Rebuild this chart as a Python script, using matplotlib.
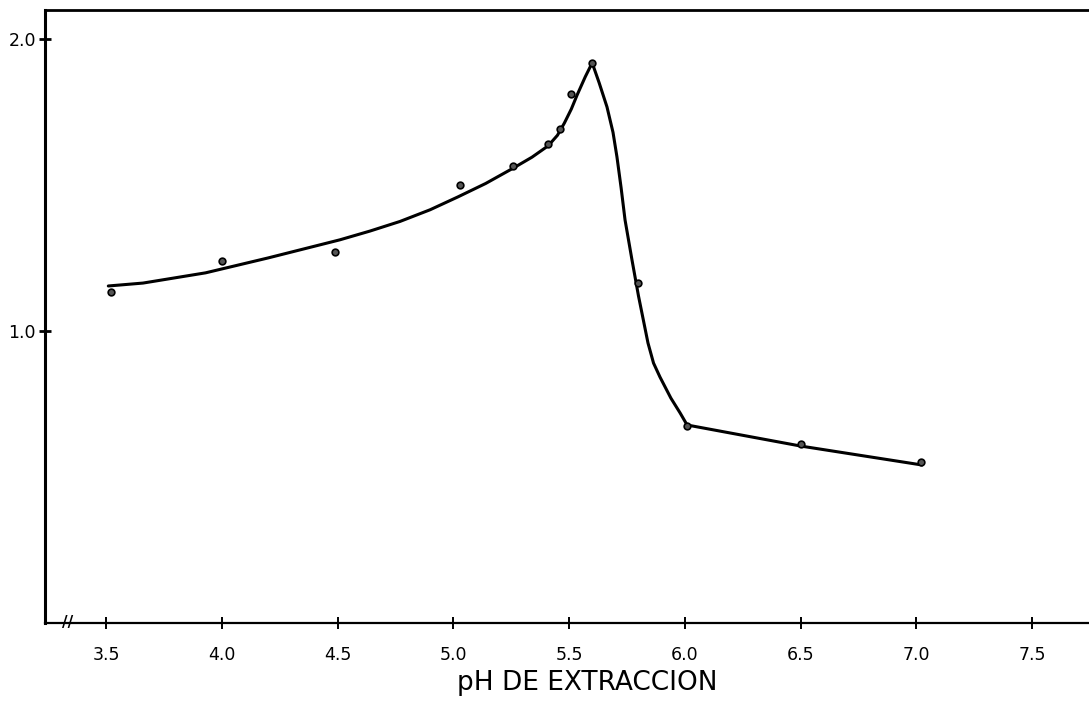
import matplotlib
matplotlib.use("Agg")
import matplotlib.pyplot as plt
import matplotlib.transforms as mtransforms

# Measured points: absorbance vs extraction pH
ph_points = [3.52, 4.00, 4.49, 5.03, 5.26, 5.41, 5.46, 5.51, 5.60, 5.80, 6.01, 6.50, 7.02]
abs_points = [1.134, 1.240, 1.270, 1.500, 1.565, 1.640, 1.690, 1.810, 1.918, 1.164, 0.675, 0.613, 0.551]

# Hand-fitted trend curve through the measurements
curve_ph = [3.51, 3.66, 3.93, 4.20, 4.51, 4.64, 4.77, 4.90, 5.02, 5.14, 5.26, 5.34, 5.41,
            5.45, 5.48, 5.51, 5.535, 5.57, 5.60, 5.63, 5.664, 5.69, 5.707, 5.725, 5.742,
            5.772, 5.80, 5.841, 5.865, 5.893, 5.94, 5.98, 6.01, 6.50, 7.025]
curve_abs = [1.154, 1.164, 1.199, 1.250, 1.312, 1.342, 1.375, 1.415, 1.459, 1.505, 1.558,
             1.595, 1.634, 1.670, 1.712, 1.760, 1.808, 1.870, 1.918, 1.850, 1.767, 1.680,
             1.596, 1.490, 1.380, 1.243, 1.120, 0.959, 0.890, 0.842, 0.770, 0.719, 0.678,
             0.606, 0.541]

x_ticks = [3.5, 4.0, 4.5, 5.0, 5.5, 6.0, 6.5, 7.0, 7.5]
x_tick_labels = ["3.5", "4.0", "4.5", "5.0", "5.5", "6.0", "6.5", "7.0", "7.5"]
y_ticks = [1.0, 2.0]
y_tick_labels = ["1.0", "2.0"]
x_title = "pH DE EXTRACCION"

W, H = 1089, 701
fig = plt.figure(figsize=(W / 100, H / 100), dpi=100)
ax = fig.add_axes([45 / W, 78 / H, (W - 45) / W, (623 - 10) / H])

ax.plot(curve_ph, curve_abs, color="black", lw=2.2, solid_capstyle="round",
        solid_joinstyle="round", zorder=2)
ax.plot(ph_points, abs_points, linestyle="none", marker="o", ms=4.8,
        mfc="#555555", mec="black", mew=1.2, zorder=3)

ax.set_xlim(3.2365, 7.746)
ax.set_ylim(0, 2.099)

ax.set_xticks(x_ticks)
ax.set_xticklabels(x_tick_labels)
ax.set_yticks(y_ticks)
ax.set_yticklabels(y_tick_labels)

ax.tick_params(axis="x", direction="inout", length=8.5, width=1.4, pad=12,
               labelsize=12.5, colors="black")
ax.tick_params(axis="y", direction="inout", length=9, width=2.0, pad=2,
               labelsize=12.5, colors="black")

ax.spines["right"].set_visible(False)
ax.spines["left"].set_linewidth(2.2)
ax.spines["bottom"].set_linewidth(1.6)
ax.spines["top"].set_linewidth(2.0)

# axis break mark near the origin
trans = mtransforms.blended_transform_factory(ax.transData, ax.transAxes)
ax.text(3.335, 0.0, "//", transform=trans, ha="center", va="center",
        fontsize=11, fontweight="bold", clip_on=False)

fig.text(587 / W, 1 - 683 / H, x_title, ha="center", va="center",
         fontsize=19, color="black")

fig.savefig("out.png", dpi=100)
